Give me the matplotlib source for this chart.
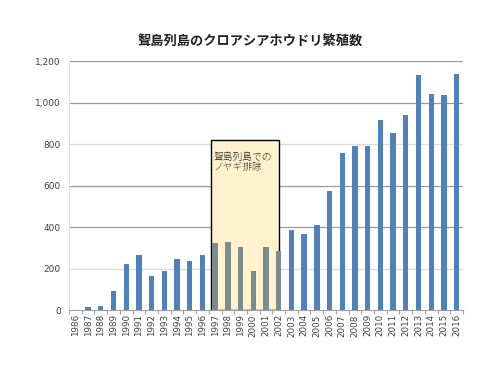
import matplotlib
matplotlib.use("Agg")
import matplotlib.pyplot as plt
from matplotlib.patches import Rectangle

plt.rcParams['font.family'] = ['Noto Sans CJK JP', 'DejaVu Sans']

years = [str(y) for y in range(1986, 2017)]
counts = [0, 15, 19, 93, 221, 266, 164, 188, 245, 237, 266,
          324, 328, 303, 188, 303, 285,
          385, 366, 408, 575, 756, 790, 790, 915, 852, 939,
          1131, 1040, 1035, 1136]
yticks = [0, 200, 400, 600, 800, 1000, 1200]
title = "聟島列島のクロアシアホウドリ繁殖数"
note = "聟島列島での\nノヤギ排除"
box_first, box_last = "1997", "2002"

fig = plt.figure(figsize=(5, 3.75), dpi=100)
ax = fig.add_axes([0.138, 0.1733, 0.788, 0.664])

x = list(range(len(years)))
i0 = years.index(box_first)
i1 = years.index(box_last)
colors = ['#7A8D8E' if i0 <= i <= i1 else '#4F81BD' for i in x]
ax.bar(x, counts, width=0.42, color=colors, zorder=3)

ax.set_xlim(-0.5, len(years) - 0.5)
ax.set_ylim(0, 1200)
ax.set_yticks(yticks)
ax.set_yticklabels([f"{v:,}" for v in yticks], fontsize=6.5, color='#404040',
                   family='DejaVu Sans')
ax.set_xticks(x)
ax.set_xticklabels(years, rotation=90, fontsize=6.3, color='#404040',
                   family='DejaVu Sans')
ax.tick_params(axis='y', length=0, pad=6)
ax.tick_params(axis='x', length=0, pad=3)
# minor tick marks between categories (Excel style)
ax.set_xticks([i - 0.5 for i in range(len(years) + 1)], minor=True)
ax.tick_params(axis='x', which='minor', length=3, color='#a0a0a0', width=0.8)

grid_colors = {0: None, 200: '#dcdcdc', 400: '#9a9a9a', 600: '#9a9a9a',
               800: '#dcdcdc', 1000: '#9a9a9a', 1200: '#9a9a9a'}
for v in yticks[1:]:
    ax.axhline(v, color=grid_colors[v], lw=0.9, zorder=1)

for s in ['top', 'right']:
    ax.spines[s].set_visible(False)
ax.spines['left'].set_color('#e0e0e0')
ax.spines['bottom'].set_color('#a0a0a0')

# highlighted box
ax.add_patch(Rectangle((i0 - 0.34, 0), (i1 - i0) + 0.34, 820,
                       facecolor='#FFF2CC', edgecolor='black', lw=1.0, zorder=2))
ax.text(i0 - 0.15, 760, note, fontsize=7, color='#333333', va='top', ha='left',
        zorder=4, linespacing=1.1, fontweight='light')

fig.text(0.5, 0.89, title, ha='center', va='center', fontsize=9.5,
         fontweight='bold', color='#222222')

fig.savefig("out.png", dpi=100)
